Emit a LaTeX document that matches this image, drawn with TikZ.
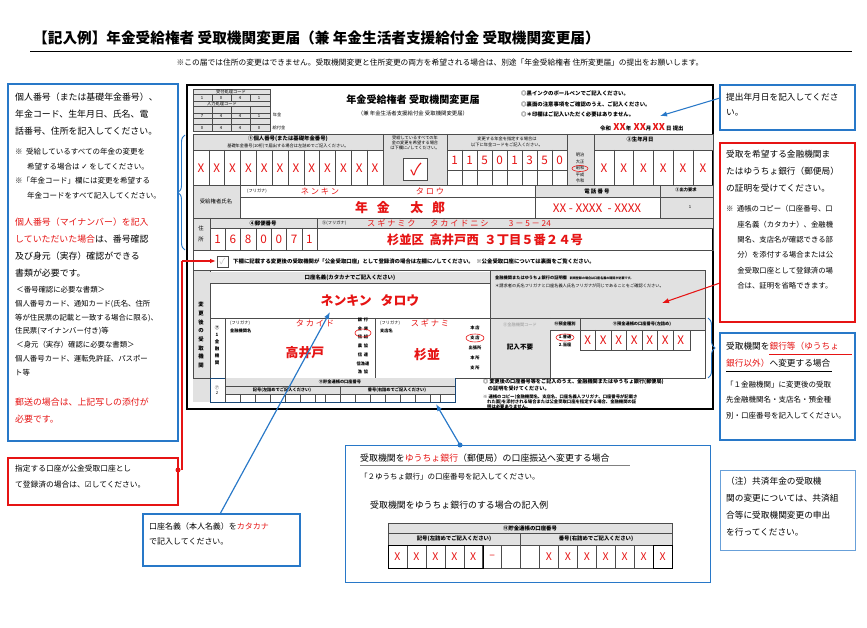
\documentclass[tikz,border=0pt]{standalone}
\usepackage{fontspec}
\setmainfont{Noto Sans CJK JP}
\newfontfamily\djv{DejaVu Sans}
\usetikzlibrary{decorations.pathreplacing,arrows.meta}
\definecolor{cblue}{RGB}{40,120,200}
\definecolor{cred}{RGB}{230,20,20}
\definecolor{hdr}{RGB}{225,225,225}
\begin{document}
\begin{tikzpicture}[x=0.3mm,y=-0.3mm,
 txt/.style={inner sep=0pt,align=left,font=\fontsize{7.2}{12}\selectfont},
 tiny/.style={inner sep=0pt,font=\fontsize{3.6}{4.5}\selectfont},
 sm/.style={inner sep=0pt,font=\fontsize{4.6}{6}\selectfont},
 hx/.style={inner sep=0pt,text=cred,font=\fontsize{10}{10}\selectfont\itshape},
 cbox/.style={draw=cblue,line width=0.9pt},
 rbox/.style={draw=cred,line width=0.9pt},
 g/.style={draw=black!70,line width=0.3pt},
 hd/.style={g,fill=hdr}]
\useasboundingbox (0,0) rectangle (867,628);
\fill[white] (0,0) rectangle (867,628);
% title
\node[inner sep=0pt,anchor=west,font=\fontsize{12.5}{14}\selectfont\bfseries] (title) at (33,38) {【記入例】年金受給権者\ 受取機関変更届（兼\ 年金生活者支援給付金\ 受取機関変更届）};
\draw[line width=0.8pt] (30,51) -- (852,51);
\node[txt,font=\fontsize{6.6}{8}\selectfont] (sub) at (440,63) {※この届では住所の変更はできません。受取機関変更と住所変更の両方を希望される場合は、別途「年金受給権者\ 住所変更届」の提出をお願いします。};
% left box
\draw[cbox] (8,84) rectangle (178,441);
\node[txt,anchor=north west,font=\fontsize{7.6}{14.5}\selectfont] (l1) at (15,93) {個人番号（または基礎年金番号）、\\年金コード、生年月日、氏名、電\\話番号、住所を記入してください。};
\node[txt,anchor=north west,font=\fontsize{6.4}{12.5}\selectfont] (l2) at (15,148) {※\ \ 受給しているすべての年金の変更を\\\hspace*{1.6em}希望する場合は {\djv ✓} をしてください。\\※「年金コード」欄には変更を希望する\\\hspace*{1.6em}年金コードをすべて記入してください。};
\node[txt,anchor=north west,font=\fontsize{7.6}{14.5}\selectfont] (l3) at (15,218) {\textcolor{cred}{個人番号（マイナンバー）を記入}\\\textcolor{cred}{していただいた場合}は、番号確認\\及び身元（実存）確認ができる\\書類が必要です。};
\node[txt,anchor=north west,font=\fontsize{6.3}{11.8}\selectfont] (l4) at (15,286) {\,＜番号確認に必要な書類＞\\個人番号カード、通知カード(氏名、住所\\等が住民票の記載と一致する場合に限る)、\\住民票(マイナンバー付き)等\\\,＜身元（実存）確認に必要な書類＞\\個人番号カード、運転免許証、パスポー\\ト等};
\node[txt,anchor=north west,text=cred,font=\fontsize{7.6}{14.5}\selectfont] (l5) at (15,398) {郵送の場合は、上記写しの添付が\\必要です。};
% brace left
\draw[cblue,line width=0.8pt,decorate,decoration={brace,amplitude=6pt}] (185,250) -- (185,135);
% form outline
\draw[line width=1.1pt] (187,85) rectangle (713,409);
% code table
\draw[hd] (193,89) rectangle (270,131);
\foreach \yy in {94,101,106,113,118,124}{\draw[g] (193,\yy)--(270,\yy);}
\foreach \xx in {212,231,250}{\draw[g] (\xx,94)--(\xx,101);\draw[g] (\xx,106)--(\xx,131);}
\foreach \d/\xx in {1/202,0/221,4/240,1/259}{\node[tiny] at (\xx,97.5){\d};}
\foreach \d/\xx in {7/202,4/221,4/240,1/259}{\node[tiny] at (\xx,115.5){\d};}
\foreach \d/\xx in {0/202,4/221,4/240,0/259}{\node[tiny] at (\xx,127.5){\d};}
\node[tiny] at (231,91.5){受付処理コード};\node[tiny] at (222,103.5){入力処理コード};
\node[tiny] at (277,115){年金};\node[tiny] at (279,128){給付金};
% title of form
\node[inner sep=0pt,font=\fontsize{8.6}{10}\selectfont\bfseries] (ftitle) at (413,100) {年金受給権者\ 受取機関変更届};
\node[sm] (fsub) at (413,113) {（兼 年金生活者支援給付金\ 受取機関変更届）};
\node[sm,anchor=west,align=left,font=\fontsize{4.6}{9}\selectfont\bfseries] (fn) at (521,104) {◎黒インクのボールペンでご記入ください。\\◎裏面の注意事項をご確認のうえ、ご記入ください。\\◎＊印欄はご記入いただく必要はありません。};
\node[sm,anchor=west] (dt) at (600,127) {\bfseries 令和\ \ \textcolor{cred}{\fontsize{8}{8}\selectfont\itshape XX}年\ \ \textcolor{cred}{\fontsize{8}{8}\selectfont\itshape XX}月\ \textcolor{cred}{\fontsize{8}{8}\selectfont\itshape XX}\ 日\ 提出};
% row1
\draw[hd] (193,134) rectangle (713,150);
\draw[g] (193,150) rectangle (713,185);
\fill[hdr] (383,134) rectangle (447,185); \fill[hdr](567,150) rectangle (594,185);
\draw[g] (193,134) rectangle (713,185);
\foreach \xx in {383,447,567,594}{\draw[g] (\xx,134)--(\xx,185);}
\node[sm] at (288,139){\bfseries ①個人番号(または基礎年金番号)};
\node[tiny] at (288,146){基礎年金番号(10桁)で届出する場合は左詰めでご記入ください。};
\node[tiny,align=center] at (415,143){受給しているすべての年\\金の変更を希望する場合\\は下欄に✓してください。};
\node[tiny,align=center] at (507,142){変更する年金を指定する場合は\\以下に年金コードをご記入ください。};
\node[sm] at (640,139){\bfseries ②生年月日};
\foreach \i in {0,...,11}{\pgfmathsetmacro\xa{193+\i*15.83}\draw[g] (\xa,150)--(\xa,185);\node[hx] at (\xa+7.9,168){X};}
\draw[g,fill=white] (403,158) rectangle (427,180);
\node[text=cred,inner sep=0pt,font=\fontsize{14}{14}\selectfont] (chk) at (416,169){✓};
\foreach \i/\d in {0/1,1/1,2/5,3/0,4/1,5/3,6/5,7/0}{\pgfmathsetmacro\xa{447+\i*15}\draw[g] (\xa,150)--(\xa,185);\node[hx] at (\xa+7.5,160){\d};}
\draw[g] (447,170)--(567,170); \draw[g,line width=0.7pt] (507,150)--(507,185);
\node[tiny,align=center,font=\fontsize{3.6}{5.5}\selectfont] at (580,168){明治\\大正\\昭和\\平成\\令和};
\draw[cred,line width=0.5pt] (580,168.5) ellipse (8 and 3);
\foreach \i in {0,...,5}{\pgfmathsetmacro\xa{594+\i*19.8}\draw[g] (\xa,150)--(\xa,185);\node[hx] at (\xa+9.9,168){X};}
% row2
\fill[hdr] (193,185) rectangle (240,218); \fill[hdr] (535,185) rectangle (713,197); \fill[hdr](660,197) rectangle (713,218);
\draw[g] (193,185) rectangle (713,218);
\draw[g] (240,185)--(240,218); \draw[g] (240,197)--(535,197); \draw[g] (535,185)--(535,218); \draw[g] (535,197)--(713,197); \draw[g] (660,185)--(660,218);
\node[sm] at (216,201){受給権者氏名};
\node[tiny] at (257,191){(フリガナ)};
\node[hx,font=\fontsize{7}{7}\selectfont\itshape] at (320,191){ネ\ ン\ キ\ ン};
\node[hx,font=\fontsize{7}{7}\selectfont\itshape] at (430,191){タ\ ロ\ ウ};
\node[hx,font=\fontsize{11}{11}\selectfont\bfseries] (name) at (400,208){年\ \ \ 金\ \ \ \ \ \ \ 太\ \ \ 郎};
\node[sm] at (597,191){\bfseries 電\ 話\ 番\ 号};
\node[hx] at (597,208){XX - XXXX\ \ - XXXX};
\node[tiny] at (686,190){\bfseries ③出力要求};
\node[tiny] at (690,207){1};
% row3
\fill[hdr] (193,218) rectangle (210,250); \fill[hdr](210,218) rectangle (317,228); \fill[hdr](317,218) rectangle (713,228);
\draw[g] (193,218) rectangle (713,250);
\draw[g] (210,218)--(210,250); \draw[g] (210,228)--(713,228); \draw[g] (317,218)--(317,250);
\node[sm,align=center] at (201,234){住\\[3pt]所};
\node[sm] at (263,223){\bfseries ④郵便番号};
\foreach \i/\d in {0/1,1/6,2/8,3/0,4/0,5/7,6/1}{\pgfmathsetmacro\xa{210+\i*15.3}\draw[g] (\xa,228)--(\xa,250);\node[hx] at (\xa+7.6,239){\d};}
\node[tiny,anchor=west] at (322,223){⑤(フリガナ)};
\node[hx,font=\fontsize{7}{7}\selectfont\itshape,anchor=west] at (367,223){ス ギ ナ ミ ク\ \ \ \ \ \ \ \ タ カ イ ド ニ シ\ \ \ \ \ \ \ \ \ \ \ 3 － 5 － 24};
\node[hx,font=\fontsize{10.5}{10.5}\selectfont\bfseries] (addr) at (485,240){杉並区\ \ 高井戸西\ \ ３丁目５番２４号};
% row4 check
\draw[g] (193,250) -- (193,402);
\draw[g,fill=white] (217,256) rectangle (228,267);
\node[text=black!25,inner sep=0pt,font=\fontsize{7}{7}\selectfont] (pchk) at (222.5,261.5){✓};
\node[sm,anchor=west] at (233,261){\bfseries 下欄に記載する変更後の受取機関が「公金受取口座」として登録済の場合は左欄に✓してください。\ \ ※公金受取口座については裏面をご覧ください。};
% section
\fill[hdr] (193,270) rectangle (210,402);
\draw[g] (193,270) rectangle (705,378);
\draw[g] (210,270)--(210,402);
\node[sm,align=center,font=\fontsize{4.6}{7.4}\selectfont\bfseries] at (201,335){変\\更\\後\\の\\受\\取\\機\\関};
\fill[hdr] (210,272) rectangle (490,283); \draw[g] (210,283)--(490,283);
\node[sm] at (350,277.5){\bfseries 口座名義(カタカナでご記入ください)};
\node[hx,font=\fontsize{11}{11}\selectfont\bfseries] (kana) at (370,301){ネンキン\ \ \ タロウ};
\fill[hdr] (490,270) rectangle (705,318); \draw[g] (490,270) rectangle (705,318);
\node[tiny,anchor=west] at (495,278){\bfseries 金融機関またはゆうちょ銀行の証明欄\ \ \ {\fontsize{2.6}{3}\selectfont 新規登録の場合は口座名義の確認が必要です。}};
\node[tiny,anchor=west] at (495,286){＊請求者の氏名フリガナと口座名義人氏名フリガナが同じであることをご確認ください。};
\draw[g] (210,318)--(705,318);
% bank row
\draw[g] (225,318)--(225,378); \draw[g] (375,318)--(375,378); \draw[g] (490,318)--(490,378); \draw[g] (550,318)--(550,378);
\node[tiny,align=center,font=\fontsize{3.8}{6}\selectfont\bfseries] at (217,345){⑦\\1\\金\\融\\機\\関};
\node[tiny,anchor=west] at (230,323){(フリガナ)};\node[tiny,anchor=west] at (230,331){\bfseries 金融機関名};
\node[hx,font=\fontsize{7}{7}\selectfont\itshape] at (315,323){タ カ イ ド};
\node[hx,font=\fontsize{11}{11}\selectfont\bfseries] (bank) at (305,353){高井戸};
\node[tiny,align=center,font=\fontsize{3.6}{7.5}\selectfont\bfseries] at (363,346){銀\ \ 行\\金\ \ 庫\\信\ \ 組\\農\ \ 協\\信\ \ 連\\信漁連\\漁\ \ 協};
\draw[cred,line width=0.5pt] (363,333) ellipse (8 and 4);
\node[tiny,anchor=west] at (380,323){(フリガナ)};\node[tiny,anchor=west] at (380,331){\bfseries 支店名};
\node[hx,font=\fontsize{7}{7}\selectfont\itshape] at (430,323){ス ギ ナ ミ};
\node[hx,font=\fontsize{11}{11}\selectfont\bfseries] (branch) at (427,355){杉並};
\node[tiny,align=center,font=\fontsize{3.6}{8.6}\selectfont\bfseries] at (475,348){本\ 店\\支\ 店\\出張所\\本\ 所\\支\ 所};
\draw[cred,line width=0.5pt] (475,338) ellipse (9 and 4);
\fill[hdr] (490,318) rectangle (550,378); \draw[g] (490,318) rectangle (550,378);
\node[tiny,text=black!40] at (520,325){⑧金融機関コード};
\node[sm,font=\fontsize{5.6}{6}\selectfont\bfseries] (fuyo) at (520,347){記入不要};
\fill[hdr] (550,318) rectangle (705,330); \draw[g] (550,318)--(705,318); \draw[g] (550,330)--(705,330); \draw[g] (580,318)--(580,350);
\node[tiny] at (565,324){\bfseries ⑩預金種別};\node[tiny] at (642,324){\bfseries ⑪預金通帳の口座番号(左詰め)};
\node[tiny,font=\fontsize{3.6}{7}\selectfont\bfseries,align=center] at (565,341){1.普通\\2.当座};
\draw[cred,line width=0.5pt] (565,337.5) ellipse (9 and 3.5);
\foreach \i in {0,...,6}{\pgfmathsetmacro\xa{580+\i*15.5}\draw[g] (\xa,330)--(\xa,350);\node[hx] at (\xa+7.8,340){X};}
\draw[g] (580,350)--(690,350)--(690,330);
% yucho
\draw[cblue!60!black,line width=0.7pt] (210,378) rectangle (455,402);
\fill[hdr] (225,378) rectangle (455,394);
\draw[g] (225,378)--(225,402); \draw[g] (225,386)--(455,386); \draw[g] (225,394)--(455,394); \draw[g] (340,386)--(340,402);
\node[tiny,align=center] at (217,390){⑦\\2};
\node[tiny] at (340,382){\bfseries ⑪貯金通帳の口座番号};
\node[tiny] at (282,390){\bfseries 記号(左詰めでご記入ください)};
\node[tiny] at (397,390){\bfseries 番号(右詰めでご記入ください)};
\foreach \xx in {240,255,270,285,300,315,325,355,370,385,400,415,430,440}{\draw[g] (\xx,394)--(\xx,402);}
\node[sm,anchor=west,align=left,font=\fontsize{4.4}{5.6}\selectfont\bfseries] (n1) at (483,385){◎\ 変更後の口座番号等をご記入のうえ、金融機関またはゆうちょ銀行(郵便局)\\\ \ \ \ の証明を受けてください。};
\node[sm,anchor=north west,align=left,font=\fontsize{3.7}{4.3}\selectfont\bfseries] (n2) at (483,394){※\ 通帳のコピー(金融機関名、支店名、口座名義人フリガナ、口座番号が記載さ\\\ \ \ \ れた面)を添付される場合または公金受取口座を指定する場合、金融機関の証\\\ \ \ \ 明は必要ありません。};
% right boxes
\draw[cbox] (720,85) rectangle (855,130);
\node[txt,anchor=north west,font=\fontsize{7.4}{13}\selectfont] (r1) at (726,93) {提出年月日を記入してくださ\\い。};
\draw[rbox] (720,143) rectangle (855,322);
\node[txt,anchor=north west,font=\fontsize{7.4}{14.5}\selectfont] (r2) at (726,150) {受取を希望する金融機関ま\\たはゆうちょ銀行（郵便局）\\の証明を受けてください。};
\node[txt,anchor=north west,font=\fontsize{6.3}{13.2}\selectfont] (r2b) at (726,205) {※\ \ 通帳のコピー（口座番号、口\\\hspace*{1.5em}座名義（カタカナ）、金融機\\\hspace*{1.5em}関名、支店名が確認できる部\\\hspace*{1.5em}分）を添付する場合または公\\\hspace*{1.5em}金受取口座として登録済の場\\\hspace*{1.5em}合は、証明を省略できます。};
\draw[cbox] (720,333) rectangle (855,440);
\node[txt,anchor=north west,font=\fontsize{7.4}{14.5}\selectfont] (r3) at (726,342) {受取機関を\textcolor{cred}{銀行等（ゆうちょ}\\\textcolor{cred}{銀行以外）}へ変更する場合};
\draw[cred,line width=0.4pt] (769,354)--(852,354); \draw[black,line width=0.4pt] (726,371)--(832,371);
\node[txt,anchor=north west,font=\fontsize{6.4}{13}\selectfont] (r3b) at (726,381) {「１金融機関」に変更後の受取\\先金融機関名・支店名・預金種\\別・口座番号を記入してください。};
\draw[cbox,line width=0.5pt,draw=cblue!70] (720,470) rectangle (855,550);
\node[txt,anchor=north west,font=\fontsize{7.4}{14.5}\selectfont] (r4) at (726,477) {（注）共済年金の受取機\\関の変更については、共済組\\合等に受取機関変更の申出\\を行ってください。};
\draw[cblue,line width=0.8pt,decorate,decoration={brace,amplitude=6pt}] (708,318) -- (708,378);
% bottom left red
\draw[rbox] (8,458) rectangle (178,505);
\node[txt,anchor=north west,font=\fontsize{6.6}{13}\selectfont] (bl) at (15,465) {指定する口座が公金受取口座とし\\て登録済の場合は、{\djv ☑}してください。};
\draw[cred,line width=0.9pt] (182,470) -- (182,261);
\draw[cred,-{Latex[length=5pt]},line width=0.9pt] (182,261) -- (216,261);
\fill[cred] (178,470) circle (2.5);
% bottom mid
\draw[cbox] (143,514) rectangle (300,566);
\node[txt,anchor=north west,font=\fontsize{6.8}{13}\selectfont] (bm) at (149,522) {口座名義（本人名義）を\textcolor{cred}{カタカナ}\\で記入してください。};
\draw[cblue,line width=1pt,-{Latex[length=6pt]}] (220,514) -- (330,312);
% bottom center
\draw[cbox,line width=0.6pt] (345,445) rectangle (710,582);
\node[txt,anchor=west,font=\fontsize{7.6}{9}\selectfont] (bc1) at (360,458) {受取機関を\textcolor{cred}{ゆうちょ銀行}（郵便局）の口座振込へ変更する場合};
\draw[black!50,line width=0.4pt] (360,465)--(630,465);
\node[txt,anchor=west,font=\fontsize{6.4}{8}\selectfont] (bc2) at (360,477) {「２ゆうちょ銀行」の口座番号を記入してください。};
\node[txt,anchor=west,font=\fontsize{7.6}{9}\selectfont] (bc3) at (370,505) {受取機関をゆうちょ銀行のする場合の記入例};
\draw[g,fill=hdr] (388,523) rectangle (672,545);
\draw[g] (388,533)--(672,533); \draw[g] (520,533)--(520,545);
\node[sm] at (530,528){\bfseries ⑪貯金通帳の口座番号};
\node[sm] at (454,539){\bfseries 記号(左詰めでご記入ください)};
\node[sm] at (596,539){\bfseries 番号(右詰めでご記入ください)};
\draw[g,fill=white] (388,545) rectangle (672,568);
\foreach \i/\c in {0/X,1/X,2/X,3/X,4/X,5/--,6/{},7/{},8/X,9/X,10/X,11/X,12/X,13/X,14/X}{
 \pgfmathsetmacro\xa{388+\i*18.93}\draw[g] (\xa,545)--(\xa,568);
 \node[hx,font=\fontsize{9}{9}\selectfont\itshape] at (\xa+9.5,556.5){\c};}
\draw[line width=0.7pt] (388,545) rectangle (483,568); \draw[line width=0.7pt] (653,545) rectangle (672,568);
\draw[cblue,line width=1pt,-{Latex[length=6pt]}] (460,445) -- (436,404);
\fill[cblue] (460,445) circle (2.5);
% other arrows
\draw[cblue,line width=0.9pt,-{Latex[length=6pt]}] (720,98) -- (660,116);
\draw[cred,line width=0.9pt,-{Latex[length=6pt]}] (720,283) -- (662,303);
\end{tikzpicture}
\end{document}
